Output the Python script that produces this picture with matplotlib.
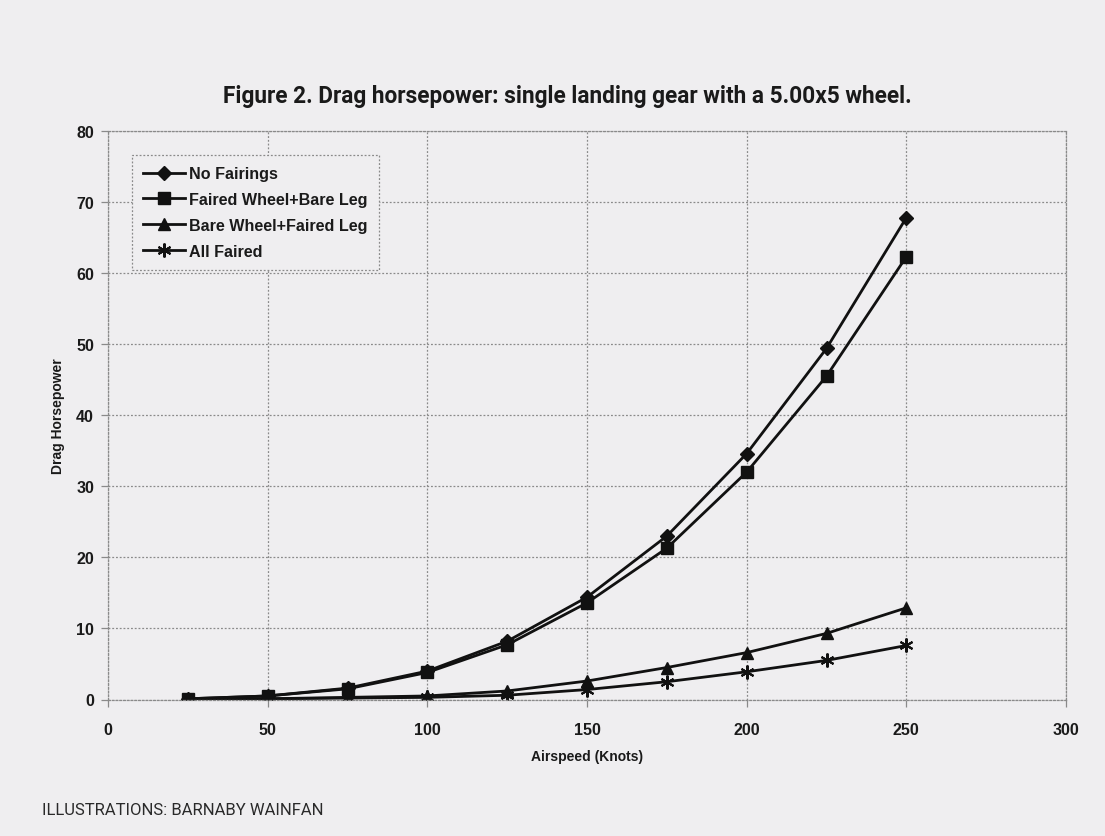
import matplotlib
matplotlib.use("Agg")
import matplotlib.pyplot as plt
from matplotlib import font_manager

names = {f.name for f in font_manager.fontManager.ttflist}
narrow = "Liberation Sans Narrow" if "Liberation Sans Narrow" in names else "Roboto"

# ---- data ----
airspeed = [25, 50, 75, 100, 125, 150, 175, 200, 225, 250]
no_fairings = [0.1, 0.5, 1.6, 4.0, 8.2, 14.4, 23.0, 34.6, 49.4, 67.8]
faired_wheel_bare_leg = [0.1, 0.5, 1.5, 3.8, 7.7, 13.6, 21.3, 32.0, 45.5, 62.3]
bare_wheel_faired_leg = [0.0, 0.1, 0.3, 0.5, 1.2, 2.6, 4.5, 6.6, 9.3, 12.9]
all_faired = [0.0, 0.1, 0.2, 0.3, 0.6, 1.4, 2.5, 3.9, 5.5, 7.6]
series_labels = ["No Fairings", "Faired Wheel+Bare Leg",
                 "Bare Wheel+Faired Leg", "All Faired"]
x_ticks = [0, 50, 100, 150, 200, 250, 300]
y_ticks = [0, 10, 20, 30, 40, 50, 60, 70, 80]

bg = "#efeef0"
grid_c = "#8a8a8a"
sans = ["Liberation Sans", "DejaVu Sans"]

fig = plt.figure(figsize=(11.05, 8.37), dpi=100, facecolor=bg)
ax = fig.add_axes([108 / 1105, 1 - 700.5 / 837, 958 / 1105, 568.5 / 837])
ax.set_facecolor("none")

styles = [
    dict(marker="D", markersize=7),
    dict(marker="s", markersize=9),
    dict(marker="^", markersize=9),
    dict(marker=(6, 2, 0), markersize=10, markeredgewidth=1.5),
]
for ys, lab, st in zip([no_fairings, faired_wheel_bare_leg,
                        bare_wheel_faired_leg, all_faired], series_labels, styles):
    ax.plot(airspeed, ys, color="#111111", lw=2.0, label=lab,
            markerfacecolor="#111111", markeredgecolor="#111111", **st)

ax.set_xlim(0, 300)
ax.set_ylim(0, 80)
ax.set_xticks(x_ticks)
ax.set_yticks(y_ticks)
ax.grid(True, color=grid_c, linestyle=(0, (1.5, 1.5)), linewidth=0.9)
ax.set_axisbelow(True)
for sp in ax.spines.values():
    sp.set_color(grid_c)
    sp.set_linestyle((0, (1.5, 1.5)))
    sp.set_linewidth(0.9)
ax.tick_params(axis="both", direction="out", length=5, color=grid_c, width=0.9)
ax.tick_params(axis="x", pad=11)
ax.tick_params(axis="y", pad=5)
for t in ax.get_xticklabels() + ax.get_yticklabels():
    t.set_fontfamily(sans)
    t.set_fontweight("bold")
    t.set_fontsize(11.5)
    t.set_color("#1a1a1a")

ax.set_xlabel("Airspeed (Knots)", fontsize=10, fontweight="bold",
              family=sans, color="#1a1a1a", labelpad=9)
ax.set_ylabel("Drag Horsepower", fontsize=10, fontweight="bold",
              family=sans, color="#1a1a1a", labelpad=8)

leg = ax.legend(loc="upper left", bbox_to_anchor=(0.025, 0.958),
                borderaxespad=0, prop=dict(family=sans, weight="bold", size=11.6),
                handlelength=2.6, handletextpad=0.25, labelspacing=0.68,
                fancybox=False, framealpha=1, facecolor=bg, edgecolor=grid_c,
                borderpad=0.7)
leg.get_frame().set_linestyle((0, (1.5, 1.5)))
leg.get_frame().set_linewidth(0.9)
for t in leg.get_texts():
    t.set_color("#1a1a1a")

fig.text(567 / 1105, 1 - 97 / 837,
         "Figure 2. Drag horsepower: single landing gear with a 5.00x5 wheel.",
         ha="center", va="center", fontsize=16.3, fontweight="bold",
         family=[narrow, "DejaVu Sans"], color="#1a1a1a")
fig.text(42 / 1105, 1 - 811 / 837, "ILLUSTRATIONS: BARNABY WAINFAN",
         ha="left", va="center", fontsize=12,
         family=[narrow, "DejaVu Sans"], color="#2a2a2a")

fig.savefig("out.png", dpi=100, facecolor=bg)
